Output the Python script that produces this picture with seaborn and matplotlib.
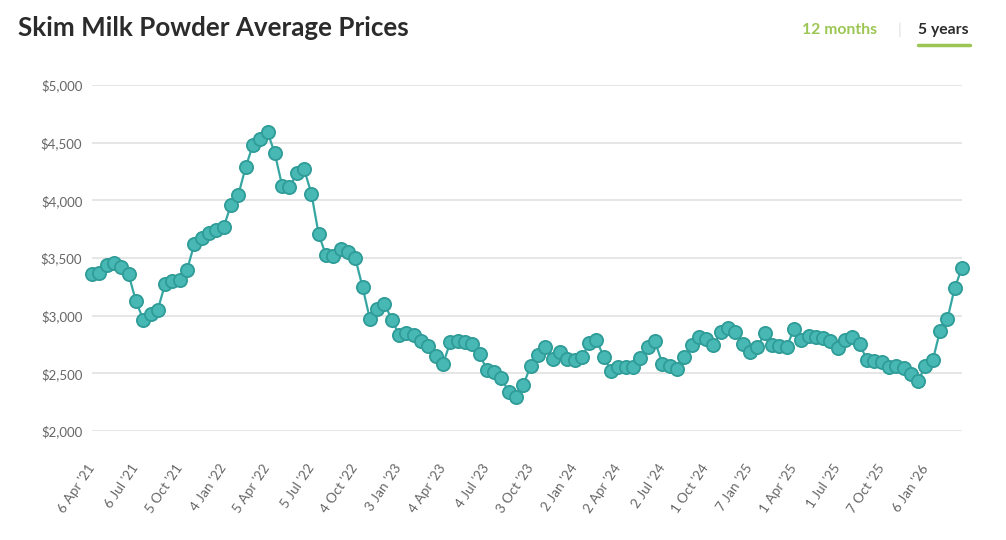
import numpy as np
import pandas as pd
import seaborn as sns
import matplotlib.pyplot as plt

# GDT skim milk powder average price (USD/t), one value per auction event
prices = [
    3364, 3370, 3436, 3456, 3421, 3358, 3126, 2966, 3016, 3053,
    3277, 3300, 3311, 3398, 3624, 3677, 3717, 3740, 3769, 3958,
    4045, 4285, 4480, 4532, 4593, 4407, 4126, 4112, 4233, 4271,
    4059, 3706, 3523, 3517, 3581, 3552, 3500, 3248, 2972, 3059,
    3103, 2966, 2833, 2848, 2833, 2778, 2740, 2653, 2581, 2769,
    2784, 2769, 2755, 2668, 2529, 2508, 2456, 2340, 2291, 2400,
    2565, 2661, 2725, 2623, 2681, 2623, 2614, 2643, 2759, 2791,
    2638, 2522, 2556, 2551, 2556, 2632, 2725, 2777, 2585, 2565,
    2536, 2638, 2748, 2812, 2797, 2745, 2855, 2893, 2855, 2754,
    2681, 2725, 2846, 2748, 2739, 2725, 2884, 2788, 2826, 2817,
    2806, 2783, 2719, 2788, 2817, 2754, 2614, 2609, 2594, 2556,
    2565, 2545, 2493, 2435, 2565, 2614, 2870, 2971, 3241, 3415,
]

# quarterly tick labels, one every 6 events
tick_labels = [
    "6 Apr '21", "6 Jul '21", "5 Oct '21", "4 Jan '22", "5 Apr '22",
    "5 Jul '22", "4 Oct '22", "3 Jan '23", "4 Apr '23", "4 Jul '23",
    "3 Oct '23", "2 Jan '24", "2 Apr '24", "2 Jul '24", "1 Oct '24",
    "7 Jan '25", "1 Apr '25", "1 Jul '25", "7 Oct '25", "6 Jan '26",
]
tick_step = 6

y_ticks = [2000, 2500, 3000, 3500, 4000, 4500, 5000]

df = pd.DataFrame({"event": np.arange(len(prices)), "price": prices})

sns.set_style("white")
plt.rcParams["font.family"] = ["Lato", "DejaVu Sans"]

fig = plt.figure(figsize=(10.06, 5.40), dpi=100)
ax = fig.add_axes([0.0915, 0.2019, 0.8648, 0.6407])

sns.lineplot(
    data=df, x="event", y="price", ax=ax,
    color="#36a6a2", linewidth=1.6,
    marker="o", markersize=9.5, markerfacecolor="#47b8b4",
    markeredgecolor="#2f9c98", markeredgewidth=1.3,
    clip_on=False, zorder=3,
)

ax.set_xlim(0, len(prices) - 1)
ax.set_ylim(2000, 5000)
ax.set_yticks(y_ticks)
ax.set_yticklabels([f"${v:,}" for v in y_ticks], fontsize=9.5, color="#666666")
ax.set_xticks(np.arange(len(tick_labels)) * tick_step)
ax.set_xticklabels(tick_labels, fontsize=9.8, color="#666666",
                   rotation=56, ha="right", va="center", rotation_mode="anchor")
ax.tick_params(axis="y", length=0, pad=7)
ax.tick_params(axis="x", length=0, pad=25)
ax.set_xlabel("")
ax.set_ylabel("")
ax.grid(axis="y", color="#e6e6e6", linewidth=1.4)
ax.grid(axis="x", visible=False)
for s in ax.spines.values():
    s.set_visible(False)

fig.text(0.018, 0.948, "Skim Milk Powder Average Prices", fontsize=18.7,
         fontweight="bold", color="#2b2b2b", va="center", ha="left")
fig.text(0.797, 0.944, "12 months", fontsize=11.3, fontweight="bold",
         color="#9cc654", va="center", ha="left")
fig.text(0.892, 0.944, "|", fontsize=11, color="#dddddd", va="center", ha="left")
fig.text(0.9125, 0.944, "5 years", fontsize=11.3, fontweight="bold",
         color="#2b2b2b", va="center", ha="left")
fig.add_artist(plt.Line2D([0.9125, 0.9645], [0.916, 0.916], color="#9cc654",
                          linewidth=2.5, transform=fig.transFigure))

fig.savefig("out.png", dpi=100, facecolor="white")
